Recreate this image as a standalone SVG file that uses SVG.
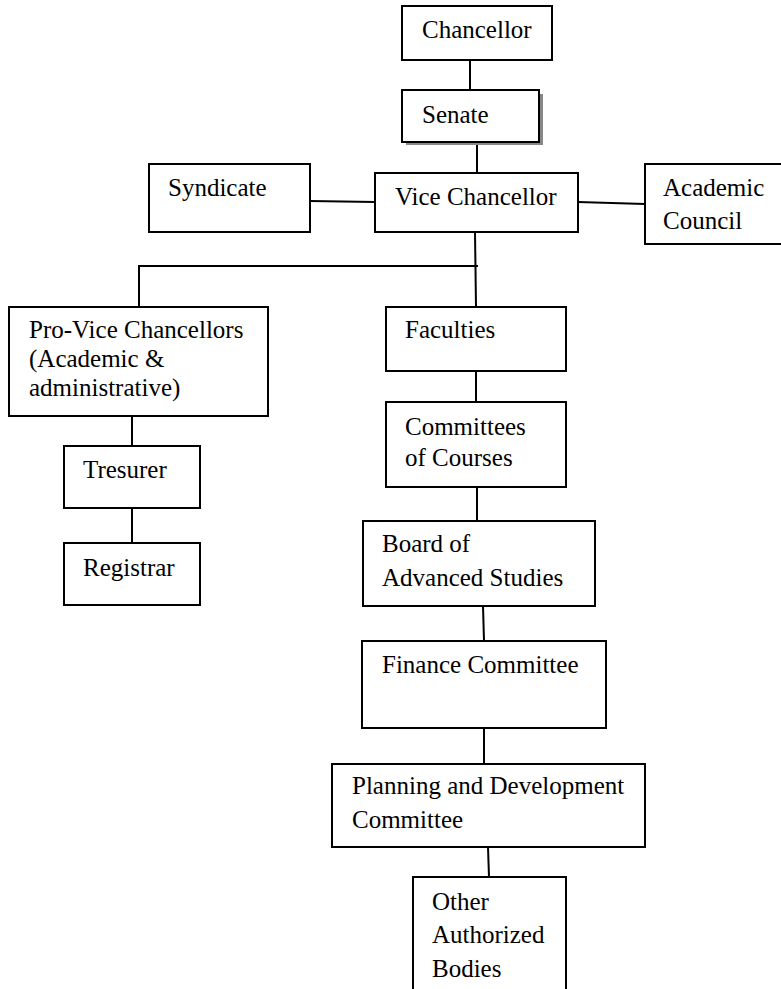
<svg xmlns="http://www.w3.org/2000/svg" width="781" height="989" viewBox="0 0 781 989">
<rect width="781" height="989" fill="#fff"/>
<g id="connectors" stroke="#000" stroke-width="2" fill="none">
<line x1="470" y1="60" x2="470" y2="90"/>
<line x1="477" y1="142" x2="477" y2="173"/>
<line x1="310" y1="201" x2="375" y2="202"/>
<line x1="578" y1="202" x2="645" y2="204"/>
<line x1="475" y1="232" x2="476" y2="307"/>
<line x1="138" y1="266" x2="478" y2="266"/>
<line x1="139" y1="266" x2="139" y2="307"/>
<line x1="132" y1="416" x2="132" y2="446"/>
<line x1="132" y1="508" x2="132" y2="543"/>
<line x1="476" y1="371" x2="476" y2="402"/>
<line x1="477" y1="487" x2="477" y2="521"/>
<line x1="483" y1="606" x2="484" y2="641"/>
<line x1="484" y1="728" x2="484" y2="764"/>
<line x1="488" y1="847" x2="489" y2="877"/>
</g>
<rect x="406" y="94" width="137" height="51" fill="#888"/>
<g id="boxes" fill="#fff" stroke="#000" stroke-width="2">
<rect id="chancellor" x="402" y="6" width="150" height="54"/>
<rect id="senate" x="402" y="90" width="137" height="52"/>
<rect id="syndicate" x="149" y="164" width="161" height="68"/>
<rect id="vice-chancellor" x="375" y="173" width="203" height="59"/>
<rect id="academic-council" x="645" y="164" width="140" height="80"/>
<rect id="pro-vice-chancellors" x="9" y="307" width="259" height="109"/>
<rect id="tresurer" x="64" y="446" width="136" height="62"/>
<rect id="registrar" x="64" y="543" width="136" height="62"/>
<rect id="faculties" x="386" y="307" width="180" height="64"/>
<rect id="committees-of-courses" x="386" y="402" width="180" height="85"/>
<rect id="board-of-advanced-studies" x="363" y="521" width="232" height="85"/>
<rect id="finance-committee" x="362" y="641" width="244" height="87"/>
<rect id="planning-and-development-committee" x="332" y="764" width="313" height="83"/>
<rect id="other-authorized-bodies" x="413" y="877" width="153" height="120"/>
</g>
<g id="labels" font-family="Liberation Serif" font-size="25" fill="#000">
<text x="422" y="38">Chancellor</text>
<text x="422" y="123">Senate</text>
<text x="168" y="196">Syndicate</text>
<text x="395" y="205">Vice Chancellor</text>
<text x="663" y="196">Academic</text>
<text x="663" y="229">Council</text>
<text x="29" y="338">Pro-Vice Chancellors</text>
<text x="29" y="367">(Academic &amp;</text>
<text x="29" y="396">administrative)</text>
<text x="83" y="478">Tresurer</text>
<text x="83" y="576">Registrar</text>
<text x="405" y="338">Faculties</text>
<text x="405" y="435">Committees</text>
<text x="405" y="466">of Courses</text>
<text x="382" y="552">Board of</text>
<text x="382" y="586">Advanced Studies</text>
<text x="382" y="673">Finance Committee</text>
<text x="352" y="794">Planning and Development</text>
<text x="352" y="828">Committee</text>
<text x="432" y="910">Other</text>
<text x="432" y="943">Authorized</text>
<text x="432" y="977">Bodies</text>
</g>
</svg>
